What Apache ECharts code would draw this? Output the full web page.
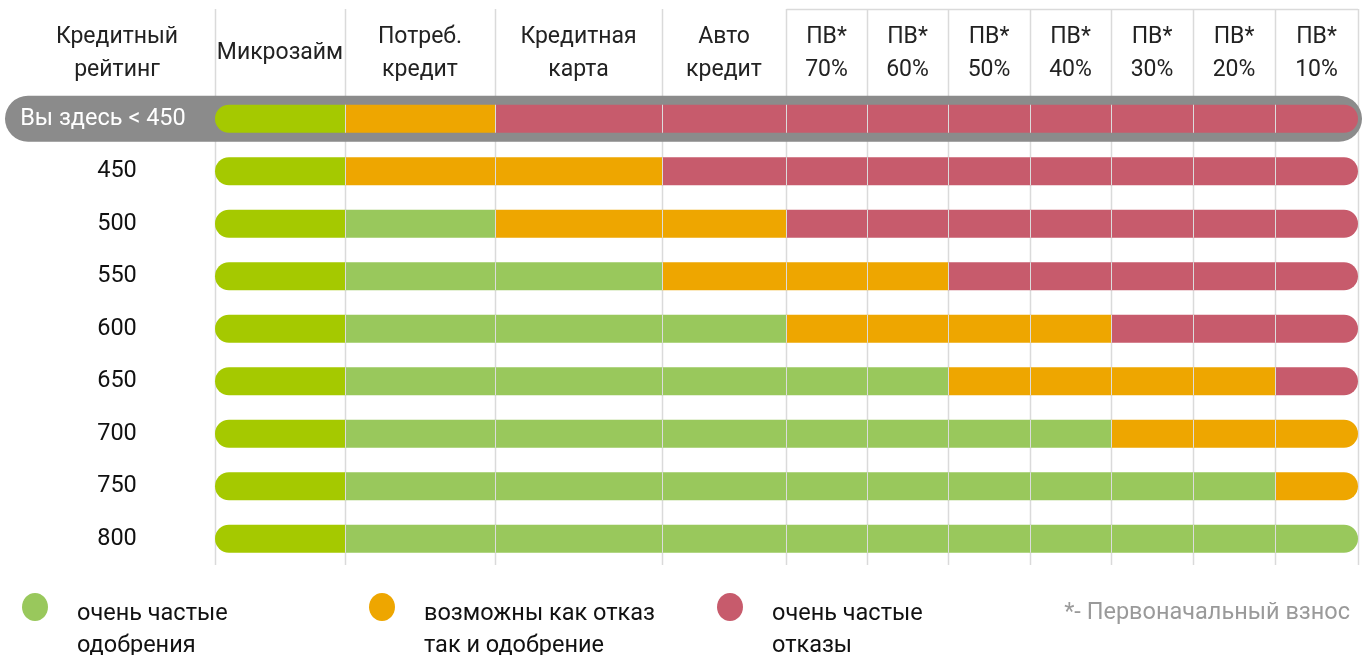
<!DOCTYPE html>
<html>
<head>
<meta charset="utf-8">
<script src="https://cdn.jsdelivr.net/npm/echarts@6/dist/echarts.min.js"></script>
<style>
  html, body { margin: 0; padding: 0; background: #fff; }
  #chart { width: 1363px; height: 655px; }
</style>
</head>
<body>
<div id="chart"></div>
<script>
// колонки (виды кредитов)
var columns = ['Микрозайм', 'Потреб.\nкредит', 'Кредитная\nкарта', 'Авто\nкредит',
  'ПВ*\n70%', 'ПВ*\n60%', 'ПВ*\n50%', 'ПВ*\n40%', 'ПВ*\n30%', 'ПВ*\n20%', 'ПВ*\n10%'];
// строки (кредитный рейтинг)
var ratings = ['Вы здесь < 450', '450', '500', '550', '600', '650', '700', '750', '800'];
// 0 - очень частые одобрения, 1 - возможны как отказ так и одобрение, 2 - очень частые отказы
var decisions = [
  [0, 1, 2, 2, 2, 2, 2, 2, 2, 2, 2],
  [0, 1, 1, 2, 2, 2, 2, 2, 2, 2, 2],
  [0, 0, 1, 1, 2, 2, 2, 2, 2, 2, 2],
  [0, 0, 0, 1, 1, 1, 2, 2, 2, 2, 2],
  [0, 0, 0, 0, 1, 1, 1, 1, 2, 2, 2],
  [0, 0, 0, 0, 0, 0, 1, 1, 1, 1, 2],
  [0, 0, 0, 0, 0, 0, 0, 0, 1, 1, 1],
  [0, 0, 0, 0, 0, 0, 0, 0, 0, 0, 1],
  [0, 0, 0, 0, 0, 0, 0, 0, 0, 0, 0]
];
var legendNames = ['очень частые\nодобрения', 'возможны как отказ\nтак и одобрение', 'очень частые\nотказы'];
var hereRow = 0;

// ширина колонок (раскладка)
var colWidths = [130, 150, 167, 124, 81, 81, 82, 81, 82, 82, 83];
var colors = ['#99c85c', '#eea600', '#c75b6c'];
var microColor = '#a5c900';
var font = 'Roboto, "Noto Sans", sans-serif';

var edges = [0];
colWidths.forEach(function (w, i) { edges.push(edges[i] + w); });
var centers = colWidths.map(function (w, i) { return edges[i] + w / 2; });
var total = edges[edges.length - 1];

var cells = [];
decisions.forEach(function (row, r) {
  row.forEach(function (st, c) {
    cells.push([edges[c], edges[c + 1], r, st, c]);
  });
});

var chart = echarts.init(document.getElementById('chart'));
var BAR_H = 28;

chart.setOption({
  animation: false,
  textStyle: { fontFamily: font },
  grid: { left: 215, right: 5, top: 92.5, bottom: 90 },
  xAxis: {
    type: 'value',
    position: 'top',
    min: 0,
    max: total,
    axisLine: { show: false },
    axisTick: { show: false },
    splitLine: { show: false },
    axisLabel: {
      customValues: centers,
      margin: 39,
      verticalAlign: 'middle',
      fontSize: 23,
      lineHeight: 33,
      color: '#222',
      formatter: function (v) {
        var best = 0;
        centers.forEach(function (c, i) { if (Math.abs(c - v) < Math.abs(centers[best] - v)) best = i; });
        return columns[best];
      }
    }
  },
  yAxis: {
    type: 'category',
    data: ratings,
    inverse: true,
    z: 10,
    axisLine: { show: false },
    axisTick: { show: false },
    splitLine: { show: false },
    axisLabel: {
      align: 'center',
      margin: 98,
      formatter: function (v, i) {
        return i === hereRow ? '{here|' + v + '}' : '{n|' + v + '}';
      },
      rich: {
        n: { fontSize: 23.5, color: '#111', fontFamily: font },
        here: { fontSize: 23.5, color: '#fff', fontFamily: font, padding: [0, 28, 0, 0] }
      }
    }
  },
  graphic: [
    { type: 'text', x: 117, y: 21, style: { text: 'Кредитный\nрейтинг', font: '23px ' + font, fill: '#222', textAlign: 'center', lineHeight: 33 } },
    { type: 'text', right: 13, top: 601, style: { text: '*- Первоначальный взнос', font: '23.5px ' + font, fill: '#9a9a9a' } }
  ].concat(legendNames.map(function (name, i) {
    var x = [35, 382, 730][i];
    return {
      type: 'group', left: x - 13, top: 593,
      children: [
        { type: 'ellipse', shape: { cx: 13, cy: 14, rx: 13, ry: 14 }, style: { fill: colors[i] } },
        { type: 'text', x: 55, y: 5, style: { text: name, font: '23.5px ' + font, fill: '#111', lineHeight: 32 } }
      ]
    };
  })),
  series: [
    {
      // вертикальные линии сетки
      type: 'custom',
      z: 1,
      silent: true,
      data: edges.map(function (e, i) { return [e, i]; }),
      encode: { x: 0 },
      renderItem: function (params, api) {
        var cs = params.coordSys;
        var x = Math.round(api.coord([api.value(0), 0])[0]) + 0.5;
        var items = [{ type: 'line', shape: { x1: x, y1: 9, x2: x, y2: cs.y + cs.height }, style: { stroke: '#dadada', lineWidth: 1.5 } }];
        if (api.value(1) === 4) {
          items.push({ type: 'line', shape: { x1: x, y1: 9.5, x2: cs.x + cs.width, y2: 9.5 }, style: { stroke: '#dadada', lineWidth: 1.5 } });
        }
        return { type: 'group', children: items };
      }
    },
    {
      // "Вы здесь"
      type: 'custom',
      z: 2,
      silent: true,
      data: [[0, hereRow]],
      encode: { x: 0, y: 1 },
      renderItem: function (params, api) {
        var y = api.coord([0, api.value(1)])[1];
        return { type: 'rect', shape: { x: 5, y: y - 23, width: api.getWidth() - 6, height: 46, r: 23 }, style: { fill: '#8b8b8b' } };
      }
    },
    {
      type: 'custom',
      z: 3,
      silent: true,
      data: cells,
      encode: { x: [0, 1], y: 2 },
      renderItem: function (params, api) {
        var col = api.value(4), st = api.value(3);
        var p0 = api.coord([api.value(0), api.value(2)]);
        var p1 = api.coord([api.value(1), api.value(2)]);
        var r = 0;
        if (col === 0) r = [14, 0, 0, 14];
        else if (col === columns.length - 1) r = [0, 14, 14, 0];
        var fill = (col === 0 && st === 0) ? microColor : colors[st];
        var kids = [{ type: 'rect', shape: { x: p0[0], y: p0[1] - BAR_H / 2, width: p1[0] - p0[0], height: BAR_H, r: r }, style: { fill: fill } }];
        if (col > 0) {
          var x = Math.round(p0[0]) + 0.5;
          kids.push({ type: 'line', shape: { x1: x, y1: p0[1] - BAR_H / 2, x2: x, y2: p0[1] + BAR_H / 2 }, style: { stroke: '#dcdcdc', lineWidth: 1 } });
        }
        return { type: 'group', children: kids };
      }
    }
  ]
});
</script>
</body>
</html>
